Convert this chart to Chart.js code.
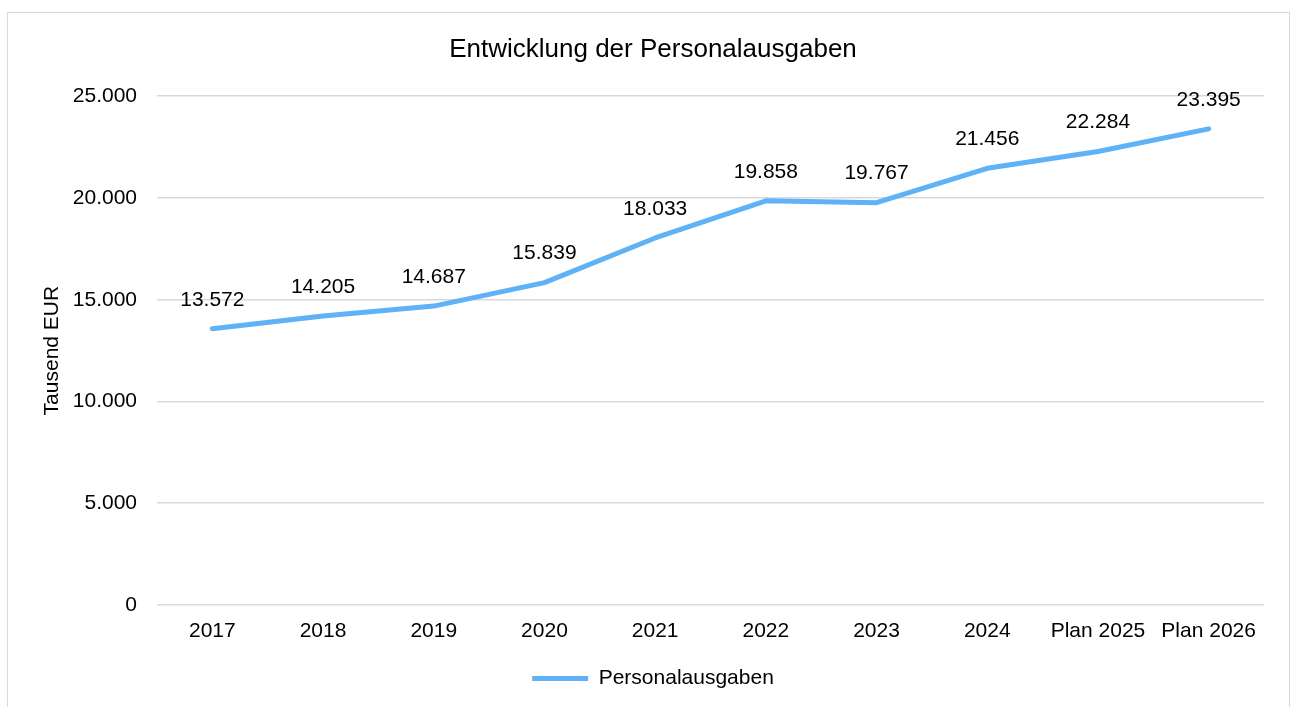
<!DOCTYPE html>
<html>
<head>
<meta charset="utf-8">
<script src="https://cdn.jsdelivr.net/npm/chart.js@4.4.1/dist/chart.umd.min.js"></script>
<style>
  html, body { margin: 0; padding: 0; background: #fff; }
  #wrap { position: relative; width: 1294px; height: 707px; overflow: hidden; }
  #frame { position: absolute; left: 7px; top: 12px; width: 1283px; height: 760px; border: 1.5px solid #d9d9d9; box-sizing: border-box; }
  #chart { position: absolute; left: 0; top: 0; }
</style>
</head>
<body>
<div id="wrap">
  <div id="frame"></div>
  <canvas id="chart" width="1294" height="707"></canvas>
</div>
<script>
// --- Data ---
const categories = ['2017', '2018', '2019', '2020', '2021', '2022', '2023', '2024', 'Plan 2025', 'Plan 2026'];
const personalausgaben = [13572, 14205, 14687, 15839, 18033, 19858, 19767, 21456, 22284, 23395];
const yTicks = [0, 5000, 10000, 15000, 20000, 25000];

const FONT = "'Liberation Sans', Arial, sans-serif";
const LINE_COLOR = '#5eb2f5';

// German thousands separator
function fmt(n) {
    return String(n).replace(/\B(?=(\d{3})+(?!\d))/g, '.');
}

// Draws the value above each point
const valueLabels = {
    id: 'valueLabels',
    afterDatasetsDraw(chart) {
        const ctx = chart.ctx;
        ctx.save();
        ctx.font = '21px ' + FONT;
        ctx.fillStyle = '#000';
        ctx.textAlign = 'center';
        ctx.textBaseline = 'middle';
        chart.data.datasets.forEach((ds, di) => {
            chart.getDatasetMeta(di).data.forEach((pt, i) => {
                ctx.fillText(fmt(ds.data[i]), pt.x, pt.y - 29);
            });
        });
        ctx.restore();
    }
};

new Chart(document.getElementById('chart'), {
    type: 'line',
    data: {
        labels: categories,
        datasets: [{
            label: 'Personalausgaben',
            data: personalausgaben,
            borderColor: LINE_COLOR,
            backgroundColor: LINE_COLOR,
            borderWidth: 5,
            borderCapStyle: 'round',
            borderJoinStyle: 'round',
            pointRadius: 0,
            pointStyle: 'line',
            tension: 0
        }]
    },
    options: {
        responsive: false,
        animation: false,
        layout: { padding: { left: 42, right: 30, top: 0, bottom: 8 } },
        plugins: {
            title: {
                display: true,
                text: 'Entwicklung der Personalausgaben',
                color: '#000',
                font: { family: FONT, size: 26, weight: 'normal' },
                padding: { top: 34, bottom: 31 }
            },
            legend: {
                position: 'bottom',
                labels: {
                    color: '#000',
                    font: { family: FONT, size: 21 },
                    usePointStyle: true,
                    pointStyleWidth: 56,
                    padding: 10
                }
            },
            tooltip: { enabled: false }
        },
        scales: {
            x: {
                offset: true,
                afterFit(scale) { scale.height = 53; },
                grid: { display: false, drawTicks: true, tickLength: 8 },
                border: { display: false },
                ticks: {
                    color: '#000',
                    font: { family: FONT, size: 21 },
                    padding: 6,
                    maxRotation: 0,
                    autoSkip: false
                }
            },
            y: {
                min: 0,
                max: 25000,
                afterFit(scale) { scale.width = 115; },
                afterBuildTicks(scale) { scale.ticks = yTicks.map(v => ({ value: v })); },
                grid: { color: '#d9d9d9', lineWidth: 1.5, drawTicks: false },
                border: { display: false },
                ticks: {
                    color: '#000',
                    font: { family: FONT, size: 21 },
                    padding: 20,
                    callback: v => fmt(v)
                },
                title: {
                    display: true,
                    text: 'Tausend EUR',
                    color: '#000',
                    font: { family: FONT, size: 21, lineHeight: 1 },
                    padding: { top: 0, bottom: 0 }
                }
            }
        }
    },
    plugins: [valueLabels]
});
</script>
</body>
</html>
